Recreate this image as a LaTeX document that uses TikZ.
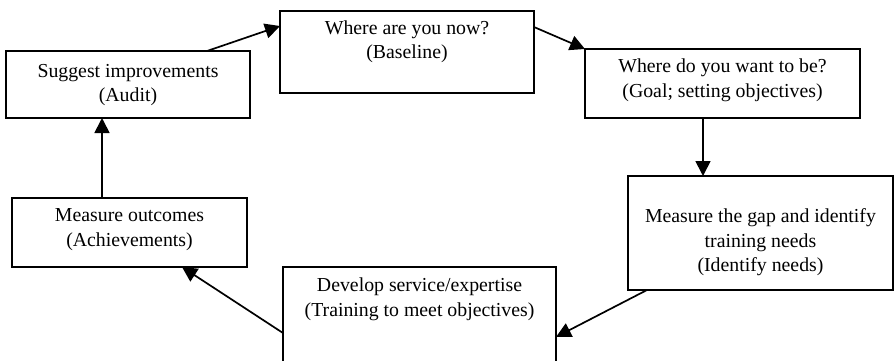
\documentclass[tikz,border=0pt]{standalone}
\usepackage{fontspec}
\setmainfont{Liberation Serif}
\usetikzlibrary{arrows.meta,calc}
\tikzset{
  box/.style={draw=black, line width=1.7pt, rectangle, inner sep=0pt, outer sep=0pt, fill=white},
  txt/.style={align=center, inner sep=0pt, font=\fontsize{19.8}{24.5}\selectfont},
  conn/.style={line width=1.7pt, -{Triangle[length=15pt,width=15pt]}}
}
\begin{document}
\begin{tikzpicture}[x=1pt,y=-1pt]
\clip (0,0) rectangle (895,360);
\fill[white] (0,0) rectangle (895,360);
% boxes
\node[box, minimum width=244pt, minimum height=67pt] (S) at (128,84.5) {};
\node[box, minimum width=254pt, minimum height=82pt] (W) at (407,52) {};
\node[box, minimum width=275pt, minimum height=69pt] (G) at (722.5,83.5) {};
\node[box, minimum width=265pt, minimum height=114pt] (M) at (760.5,233) {};
\node[box, minimum width=273pt, minimum height=113pt] (D) at (419.5,323.5) {};
\node[box, minimum width=235pt, minimum height=69pt] (O) at (129.5,232.5) {};
% texts
\node[txt] (St) at (128,85) {Suggest improvements\\(Audit)};
\node[txt] (Wt) at (407,41.5) {Where are you now?\\(Baseline)};
\node[txt] (Gt) at (722.5,80.5) {Where do you want to be?\\(Goal; setting objectives)};
\node[txt] (Mt) at (760.5,242.5) {Measure the gap and identify\\training needs\\(Identify needs)};
\node[txt] (Dt) at (419.5,299.5) {Develop service/expertise\\(Training to meet objectives)};
\node[txt] (Ot) at (129.5,229.5) {Measure outcomes\\(Achievements)};
% connectors
\draw[conn] ($(S.north west)+(201,0)$) -- ($(W.north west)+(0,15)$);
\draw[conn] ($(W.north east)+(0,16)$) -- (G.north west);
\draw[conn] ($(G.south west)+(118,0)$) -- ($(M.north west)+(75,0)$);
\draw[conn] ($(M.south west)+(19,0)$) -- ($(D.north east)+(0,70)$);
\draw[conn] ($(D.north west)+(0,66)$) -- ($(O.south west)+(170,0)$);
\draw[conn] ($(O.north west)+(90,0)$) -- ($(S.south west)+(96,0)$);
\end{tikzpicture}
\end{document}
